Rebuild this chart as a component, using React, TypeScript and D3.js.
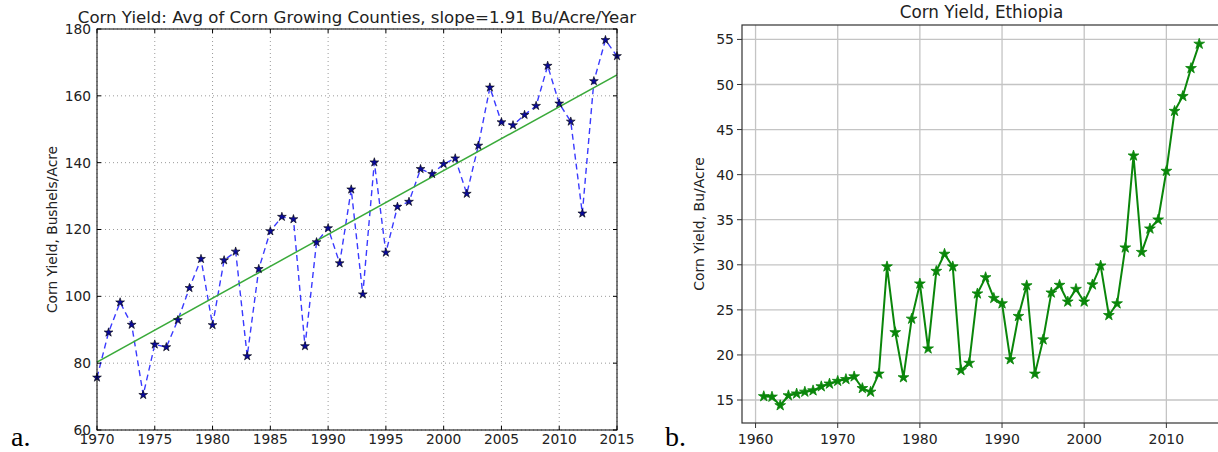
import React from "react";
import * as d3 from "d3";

// Panel a: average corn yield of corn-growing counties (Bu/Acre), 1970–2015
const usYears: number[] = d3.range(1970, 2016);
const usYield: number[] = [
  75.7, 89.2, 98.2, 91.5, 70.5, 85.6, 84.8, 92.9, 102.5, 111.2,
  91.4, 110.8, 113.4, 82.1, 108.2, 119.5, 123.8, 123.1, 85.1, 116.2,
  120.4, 109.9, 132.0, 100.6, 140.1, 113.1, 126.8, 128.3, 138.1, 136.6,
  139.6, 141.3, 130.7, 145.1, 162.5, 152.1, 151.2, 154.3, 157.0, 169.0,
  157.7, 152.3, 124.8, 164.4, 176.7, 171.9,
];
const usSlope = 1.91;
const usXTicks = [1970, 1975, 1980, 1985, 1990, 1995, 2000, 2005, 2010, 2015];
const usYTicks = [60, 80, 100, 120, 140, 160, 180];

// Panel b: corn yield in Ethiopia (Bu/Acre), 1961–2014
const etYears: number[] = d3.range(1961, 2015);
const etYield: number[] = [
  15.4, 15.35, 14.4, 15.5, 15.7, 15.9, 16.05, 16.5, 16.8, 17.1,
  17.3, 17.6, 16.3, 15.9, 17.9, 29.8, 22.5, 17.5, 24.0, 27.9,
  20.7, 29.3, 31.2, 29.8, 18.3, 19.1, 26.8, 28.6, 26.3, 25.7,
  19.5, 24.3, 27.7, 17.9, 21.7, 26.9, 27.75, 25.9, 27.3, 25.9,
  27.8, 29.9, 24.4, 25.7, 31.9, 42.1, 31.4, 34.0, 35.0, 40.4,
  47.05, 48.7, 51.8, 54.5,
];
const etXTicks = [1960, 1970, 1980, 1990, 2000, 2010];
const etYTicks = [15, 20, 25, 30, 35, 40, 45, 50, 55];

const SANS = "'DejaVu Sans', Verdana, sans-serif";

function PanelA() {
  const left = 97, right = 617, top = 29, bottom = 430;
  const x = d3.scaleLinear().domain([1970, 2015]).range([left, right]);
  const y = d3.scaleLinear().domain([60, 180]).range([bottom, top]);

  const meanX = d3.mean(usYears) as number;
  const meanY = d3.mean(usYield) as number;
  const fit = (t: number) => meanY + usSlope * (t - meanX);

  const line = d3
    .line<number>()
    .x((_, i) => x(usYears[i]))
    .y((d) => y(d));
  const star = d3.symbol().type(d3.symbolStar).size(24)();

  return (
    <g>
      <defs>
        <clipPath id="clipA">
          <rect x={left} y={top} width={right - left} height={bottom - top} />
        </clipPath>
      </defs>
      {/* dotted grid */}
      {usXTicks.map((t) => (
        <line key={"gx" + t} x1={x(t)} x2={x(t)} y1={top} y2={bottom}
          stroke="#9a9a9a" strokeWidth={1} strokeDasharray="1,3" />
      ))}
      {usYTicks.map((t) => (
        <line key={"gy" + t} x1={left} x2={right} y1={y(t)} y2={y(t)}
          stroke="#9a9a9a" strokeWidth={1} strokeDasharray="1,3" />
      ))}
      <g clipPath="url(#clipA)">
        <path d={line(usYield) || ""} fill="none" stroke="#3a3aff"
          strokeWidth={1.4} strokeDasharray="6,4" />
        <line x1={x(1970)} y1={y(fit(1970))} x2={x(2015)} y2={y(fit(2015))}
          stroke="#3aaa3a" strokeWidth={1.5} />
      </g>
      {usYield.map((v, i) => (
        <path key={"m" + i} d={star || ""}
          transform={`translate(${x(usYears[i])},${y(v)})`}
          fill="#0a0a9a" stroke="#000" strokeWidth={0.6} />
      ))}
      {/* frame */}
      <rect x={left} y={top} width={right - left} height={bottom - top}
        fill="none" stroke="#000" strokeWidth={1} />
      {/* inward ticks */}
      {usXTicks.map((t) => (
        <g key={"tx" + t}>
          <line x1={x(t)} x2={x(t)} y1={bottom} y2={bottom - 4} stroke="#000" />
          <line x1={x(t)} x2={x(t)} y1={top} y2={top + 4} stroke="#000" />
          <text x={x(t)} y={443.5} textAnchor="middle" fontFamily={SANS}
            fontSize={13.8} fill="#222">{t}</text>
        </g>
      ))}
      {usYTicks.map((t) => (
        <g key={"ty" + t}>
          <line x1={left} x2={left + 4} y1={y(t)} y2={y(t)} stroke="#000" />
          <line x1={right} x2={right - 4} y1={y(t)} y2={y(t)} stroke="#000" />
          <text x={91} y={y(t)} dy="0.36em" textAnchor="end" fontFamily={SANS}
            fontSize={13.8} fill="#222">{t}</text>
        </g>
      ))}
      <text x={(left + right) / 2} y={23} textAnchor="middle" fontFamily={SANS}
        fontSize={16.6} fill="#222">
        Corn Yield: Avg of Corn Growing Counties, slope=1.91 Bu/Acre/Year
      </text>
      <text transform={`translate(57,${(top + bottom) / 2}) rotate(-90)`}
        textAnchor="middle" fontFamily={SANS} fontSize={13.8} fill="#222">
        Corn Yield, Bushels/Acre
      </text>
    </g>
  );
}

function PanelB() {
  const left = 742, right = 1221, top = 25, bottom = 423;
  const x = d3.scaleLinear().domain([1958.35, 2016.65]).range([left, right]);
  const y = d3.scaleLinear().domain([12.45, 56.6]).range([bottom, top]);

  const line = d3
    .line<number>()
    .x((_, i) => x(etYears[i]))
    .y((d) => y(d));
  const star = d3.symbol().type(d3.symbolStar).size(36)();

  return (
    <g>
      {etXTicks.map((t) => (
        <line key={"gx" + t} x1={x(t)} x2={x(t)} y1={top} y2={bottom}
          stroke="#c4c4c4" strokeWidth={1.3} />
      ))}
      {etYTicks.map((t) => (
        <line key={"gy" + t} x1={left} x2={right} y1={y(t)} y2={y(t)}
          stroke="#c4c4c4" strokeWidth={1.3} />
      ))}
      <path d={line(etYield) || ""} fill="none" stroke="#0a860a"
        strokeWidth={2} />
      {etYield.map((v, i) => (
        <path key={"m" + i} d={star || ""}
          transform={`translate(${x(etYears[i])},${y(v)})`}
          fill="#0a860a" stroke="#0a860a" strokeWidth={0.8} />
      ))}
      <rect x={left} y={top} width={right - left} height={bottom - top}
        fill="none" stroke="#333" strokeWidth={1.2} />
      {etXTicks.map((t) => (
        <g key={"tx" + t}>
          <line x1={x(t)} x2={x(t)} y1={bottom} y2={bottom + 5} stroke="#333" />
          <text x={x(t)} y={444} textAnchor="middle" fontFamily={SANS}
            fontSize={14} fill="#222">{t}</text>
        </g>
      ))}
      {etYTicks.map((t) => (
        <g key={"ty" + t}>
          <line x1={left} x2={left - 5} y1={y(t)} y2={y(t)} stroke="#333" />
          <text x={734} y={y(t)} dy="0.36em" textAnchor="end" fontFamily={SANS}
            fontSize={14} fill="#222">{t}</text>
        </g>
      ))}
      <text x={(left + right) / 2} y={18} textAnchor="middle" fontFamily={SANS}
        fontSize={16.8} fill="#222">
        Corn Yield, Ethiopia
      </text>
      <text transform={`translate(704,${(top + bottom) / 2}) rotate(-90)`}
        textAnchor="middle" fontFamily={SANS} fontSize={14} fill="#222">
        Corn Yield, Bu/Acre
      </text>
    </g>
  );
}

export default function App() {
  return (
    <svg width={1218} height={452}
      style={{ position: "absolute", left: 0, top: 0, background: "#fff" }}>
      <rect width={1218} height={452} fill="#fff" />
      <PanelA />
      <PanelB />
      <text x={11} y={446} fontFamily="'Liberation Serif', 'Times New Roman', serif"
        fontSize={28} fill="#000">a.</text>
      <text x={665} y={446} fontFamily="'Liberation Serif', 'Times New Roman', serif"
        fontSize={28} fill="#000">b.</text>
    </svg>
  );
}
